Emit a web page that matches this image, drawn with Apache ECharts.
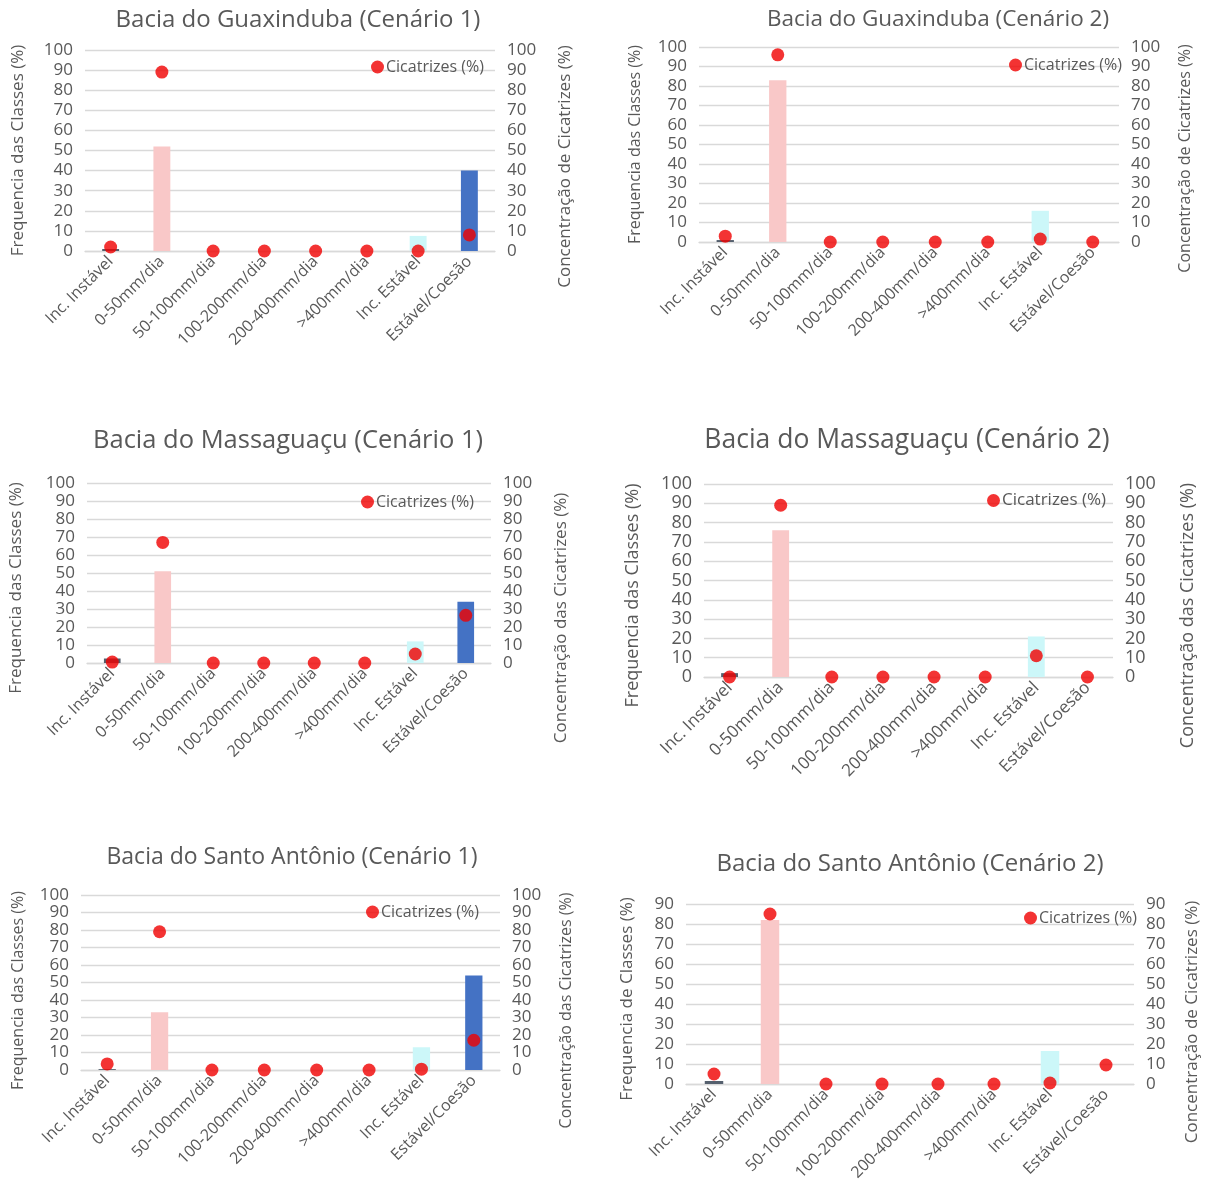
<!DOCTYPE html>
<html lang="pt">
<head>
<meta charset="UTF-8">
<title>Bacias - Cenários</title>
<script src="https://cdn.jsdelivr.net/npm/echarts@6/dist/echarts.min.js"></script>
<style>
  html, body { margin: 0; padding: 0; background: #fff; }
  #chart { width: 1205px; height: 1191px; }
</style>
</head>
<body>
<div id="chart"></div>
<script>
// categorias (classes)
const categorias = ['Inc. Instável', '0-50mm/dia', '50-100mm/dia', '100-200mm/dia', '200-400mm/dia', '>400mm/dia', 'Inc. Estável', 'Estável/Coesão'];

const titulos = [
  'Bacia do Guaxinduba (Cenário 1)', 'Bacia do Guaxinduba (Cenário 2)',
  'Bacia do Massaguaçu (Cenário 1)', 'Bacia do Massaguaçu (Cenário 2)',
  'Bacia do Santo Antônio (Cenário 1)', 'Bacia do Santo Antônio (Cenário 2)'
];
const nomesEsq = [
  'Frequencia das Classes (%)', 'Frequencia das Classes (%)',
  'Frequencia das Classes (%)', 'Frequencia das Classes (%)',
  'Frequencia das Classes (%)', 'Frequencia de Classes (%)'
];
const nomesDir = [
  'Concentração de Cicatrizes (%)', 'Concentração de Cicatrizes (%)',
  'Concentração das Cicatrizes (%)', 'Concentração das Cicatrizes (%)',
  'Concentração das Cicatrizes (%)', 'Concentração de Cicatrizes (%)'
];
const maximos = [100, 100, 100, 100, 100, 90];

// frequencia das classes (barras)
const freq1 = [1, 52, 0, 0, 0, 0, 7.5, 40];
const freq2 = [1, 83, 0, 0, 0, 0, 16, 0];
const freq3 = [2.5, 51, 0, 0, 0, 0, 12, 34];
const freq4 = [2, 76, 0, 0, 0, 0, 21, 0];
const freq5 = [0.5, 33, 0, 0, 0, 0, 13, 54];
const freq6 = [1.5, 82, 0, 0, 0, 0, 16.5, 0];

// cicatrizes (pontos)
const cic1 = [2, 89, 0, 0, 0, 0, 0, 8];
const cic2 = [3, 96, 0, 0, 0, 0, 1.5, 0];
const cic3 = [0.5, 67, 0, 0, 0, 0, 5, 26.5];
const cic4 = [0, 89, 0, 0, 0, 0, 11, 0];
const cic5 = [3.5, 79, 0, 0, 0, 0, 0.5, 17];
const cic6 = [5, 85, 0, 0, 0, 0, 0.5, 9.5];

const freqs = [freq1, freq2, freq3, freq4, freq5, freq6];
const cics = [cic1, cic2, cic3, cic4, cic5, cic6];

const coresBarras = ['#55606e', '#f9c8c8', '#f9c8c8', '#f9c8c8', '#f9c8c8', '#f9c8c8', '#ccf7f9', '#4472c4'];

// posicao de cada painel (pixels)
const paineis = [
  { l: 85,  t: 50,  w: 410, h: 201, tx: 298, ty: 20,  ft: 24, fk: 17, fn: 17, fc: 16, gl: 58, gr: 62, dl: 0,  dr: 16, lx: 366, ly: 54 },
  { l: 699, t: 47,  w: 420, h: 195, tx: 938, ty: 20,  ft: 22.5, fk: 17, fn: 16, fc: 16, gl: 56, gr: 58, dl: 0,  dr: 14, lx: 1004, ly: 52 },
  { l: 87,  t: 483, w: 404, h: 180, tx: 288, ty: 441, ft: 25.5, fk: 17, fn: 17, fc: 16, gl: 62, gr: 62, dl: 15, dr: 45, lx: 356, ly: 489 },
  { l: 704, t: 484, w: 409, h: 193, tx: 907, ty: 440, ft: 26.5, fk: 18, fn: 18, fc: 17, gl: 62, gr: 66, dl: 15, dr: 35, lx: 982, ly: 487 },
  { l: 81,  t: 895, w: 419, h: 175, tx: 292, ty: 857, ft: 23, fk: 17, fn: 16, fc: 16, gl: 55, gr: 58, dl: 8,  dr: 28, lx: 361, ly: 899 },
  { l: 686, t: 904, w: 448, h: 180, tx: 910, ty: 864, ft: 24, fk: 17, fn: 17, fc: 16, gl: 50, gr: 50, dl: 5,  dr: 28, lx: 1019, ly: 905 }
];

const fonte = '"Open Sans", "Noto Sans", sans-serif';
const cinza = '#595959';

const grids = [], xAxes = [], yAxes = [], series = [], legends = [], textos = [];

paineis.forEach(function (p, i) {
  grids.push({ left: p.l, top: p.t, width: p.w, height: p.h });
  xAxes.push({
    type: 'category', gridIndex: i, data: categorias,
    axisLine: { lineStyle: { color: '#d9d9d9', width: 1.3 } },
    axisTick: { show: false },
    axisLabel: { rotate: 45, color: cinza, fontSize: p.fc, fontFamily: fonte, interval: 0, margin: 8 }
  });
  const eixo = function (nome, pos, gap, desloc) {
    // desloca o nome do eixo para baixo com padding
    return {
      type: 'value', gridIndex: i, position: pos, min: 0, max: maximos[i], interval: 10,
      name: nome, nameLocation: 'middle', nameGap: gap,
      nameTextStyle: { color: cinza, fontSize: p.fn, fontFamily: fonte, padding: [0, 2 * desloc, 0, 0] },
      axisLine: { show: false }, axisTick: { show: false },
      axisLabel: { color: cinza, fontSize: p.fk, fontFamily: fonte, margin: 12 },
      splitLine: { show: pos === 'left', lineStyle: { color: '#d9d9d9', width: 1.3 } }
    };
  };
  yAxes.push(eixo(nomesEsq[i], 'left', p.gl, p.dl));
  yAxes.push(eixo(nomesDir[i], 'right', p.gr, p.dr));

  series.push({
    type: 'bar', name: 'Frequencia', xAxisIndex: i, yAxisIndex: 2 * i,
    data: freqs[i], barWidth: '33%',
    itemStyle: { color: function (d) { return coresBarras[d.dataIndex]; } }
  });
  series.push({
    type: 'scatter', name: 'Cicatrizes (%)', xAxisIndex: i, yAxisIndex: 2 * i + 1,
    data: cics[i], symbolSize: 13, itemStyle: { color: '#f00000' }, z: 5
  });
  legends.push({
    data: ['Cicatrizes (%)'], left: p.lx, top: p.ly, icon: 'circle',
    itemWidth: 13, itemHeight: 13, itemGap: 2,
    textStyle: { color: cinza, fontSize: p.fk - 1, fontFamily: fonte, padding: [0, 0, 0, -3] }
  });
  textos.push({
    type: 'text', x: p.tx, y: p.ty,
    style: { text: titulos[i], fill: cinza, font: p.ft + 'px ' + fonte, textAlign: 'center', textVerticalAlign: 'middle' }
  });
});

const grafico = echarts.init(document.getElementById('chart'));
grafico.setOption({
  animation: false,
  backgroundColor: '#fff',
  grid: grids,
  xAxis: xAxes,
  yAxis: yAxes,
  legend: legends,
  series: series,
  graphic: textos
});
</script>
</body>
</html>
